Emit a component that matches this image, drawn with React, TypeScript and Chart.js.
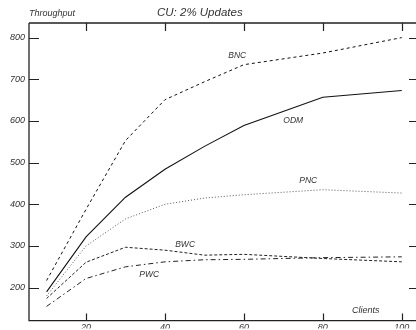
import React, { useEffect, useRef } from "react";
import { Chart, registerables } from "chart.js";

Chart.register(...registerables);

const clients = [10, 20, 30, 40, 50, 60, 80, 100];
const bnc = [217, 388, 553, 651, 694, 735, 763, 800];
const odm = [190, 322, 417, 484, 539, 589, 657, 673];
const pnc = [180, 300, 365, 400, 415, 423, 435, 427];
const bwc = [174, 261, 297, 290, 278, 280, 270, 262];
const pwc = [155, 222, 250, 262, 267, 268, 272, 274];
const xTicks = [20, 40, 60, 80, 100];
const yTicks = [200, 300, 400, 500, 600, 700, 800];
const seriesLabels = [
  { text: "BNC", x: 58.3, y: 759 },
  { text: "ODM", x: 72.5, y: 603 },
  { text: "PNC", x: 76.3, y: 458 },
  { text: "BWC", x: 45.1, y: 305 },
  { text: "PWC", x: 36, y: 233 },
];

const FONT = "'Liberation Sans', Arial, sans-serif";

const framePlugin = {
  id: "frame",
  afterDraw(chart: any) {
    const ctx = chart.ctx;
    const { left, right, top, bottom } = chart.chartArea;
    const xs = chart.scales.x;
    const ys = chart.scales.y;
    ctx.save();
    ctx.strokeStyle = "#222";
    ctx.lineWidth = 1.3;
    ctx.beginPath();
    ctx.moveTo(left, top);
    ctx.lineTo(right, top);
    ctx.moveTo(left, top);
    ctx.lineTo(left, bottom);
    ctx.lineTo(right, bottom);
    ctx.stroke();
    ctx.lineWidth = 1.2;
    ctx.beginPath();
    yTicks.forEach((v) => {
      const p = Math.round(ys.getPixelForValue(v)) + 0.5;
      ctx.moveTo(left, p);
      ctx.lineTo(left + 10, p);
      ctx.moveTo(right - 7, p);
      ctx.lineTo(right, p);
    });
    xTicks.forEach((v) => {
      const p = Math.round(xs.getPixelForValue(v)) + 0.5;
      ctx.moveTo(p, top);
      ctx.lineTo(p, top + 8);
      ctx.moveTo(p, bottom);
      ctx.lineTo(p, bottom - 7);
    });
    ctx.stroke();

    ctx.fillStyle = "#333";
    ctx.textBaseline = "alphabetic";
    ctx.font = `italic 8.5px ${FONT}`;
    ctx.textAlign = "center";
    seriesLabels.forEach((l) => {
      ctx.fillText(l.text, xs.getPixelForValue(l.x), ys.getPixelForValue(l.y) + 3);
    });
    ctx.font = `italic 9px ${FONT}`;
    ctx.textAlign = "left";
    ctx.fillText("Throughput", 29, 16);
    ctx.fillText("Clients", 352, 313);
    ctx.font = `italic 11.5px ${FONT}`;
    ctx.fillText("CU: 2% Updates", 157, 16);
    ctx.restore();
  },
};

export default function App() {
  const ref = useRef<HTMLCanvasElement>(null);
  useEffect(() => {
    if (!ref.current) return;
    const mk = (data: number[], dash: number[], width: number, color: string) => ({
      data: clients.map((c, i) => ({ x: c, y: data[i] })),
      borderColor: color,
      borderWidth: width,
      borderDash: dash,
      pointRadius: 0,
      fill: false,
      tension: 0,
    });
    const chart = new Chart(ref.current, {
      type: "line",
      data: {
        datasets: [
          mk(bnc, [3, 3], 1, "#111"),
          mk(odm, [], 1.1, "#111"),
          mk(pnc, [1, 2], 1, "#555"),
          mk(bwc, [3, 2], 1, "#222"),
          mk(pwc, [5, 3, 1.5, 3], 1, "#222"),
        ],
      },
      options: {
        animation: false,
        responsive: false,
        devicePixelRatio: 1,
        layout: { padding: { top: 23, left: 0, right: 0, bottom: 0 } },
        plugins: { legend: { display: false }, tooltip: { enabled: false } },
        scales: {
          x: {
            type: "linear",
            min: 5.55,
            max: 103.6,
            grid: { display: false, drawTicks: false },
            border: { display: false },
            afterFit: (s: any) => {
              s.height = 8;
            },
            afterBuildTicks: (s: any) => {
              s.ticks = xTicks.map((v) => ({ value: v }));
            },
            ticks: {
              padding: 1,
              color: "#333",
              maxRotation: 0,
              autoSkip: false,
              font: { family: FONT, style: "italic", size: 9 },
            },
          },
          y: {
            type: "linear",
            min: 121,
            max: 835,
            grid: { display: false, drawTicks: false },
            border: { display: false },
            afterFit: (s: any) => {
              s.width = 29;
            },
            afterBuildTicks: (s: any) => {
              s.ticks = yTicks.map((v) => ({ value: v }));
            },
            ticks: {
              padding: 4,
              color: "#333",
              autoSkip: false,
              font: { family: FONT, style: "italic", size: 9 },
            },
          },
        },
      },
      plugins: [framePlugin],
    } as any);
    return () => chart.destroy();
  }, []);
  return (
    <div style={{ position: "absolute", left: 0, top: 0, width: 416, height: 330, background: "#fff" }}>
      <canvas ref={ref} width={416} height={330} style={{ width: 416, height: 330 }} />
    </div>
  );
}
